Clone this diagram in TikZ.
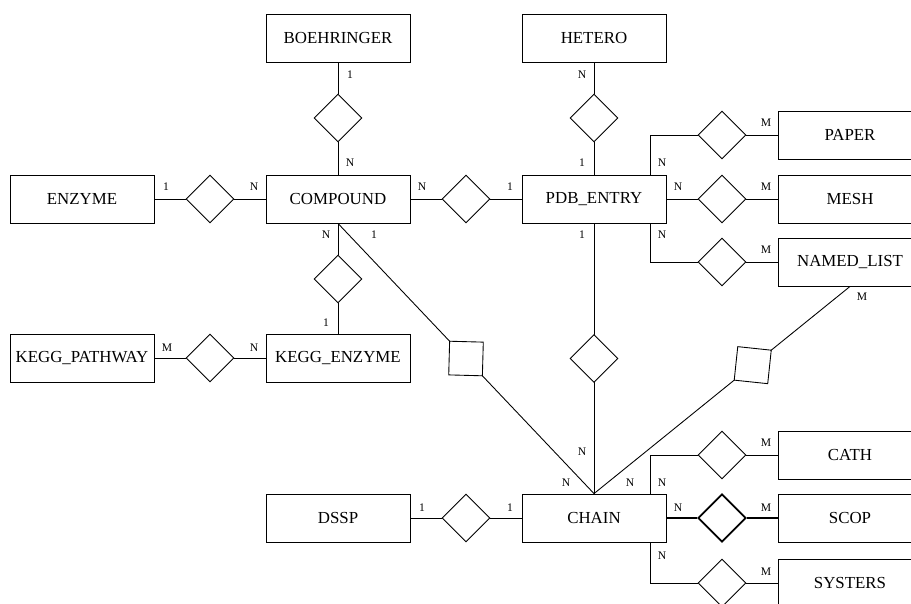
\documentclass[tikz,border=0pt]{standalone}
\usepackage{fontspec}
\setmainfont{Liberation Serif}
\usetikzlibrary{shapes.geometric}

\tikzset{
  ent/.style={draw,minimum width=2.88cm,minimum height=0.96cm,inner sep=0pt,font=\fontsize{9.6}{11}\selectfont},
  rel/.style={draw,diamond,aspect=1,minimum width=0.96cm,minimum height=0.96cm,inner sep=0pt,fill=white},
  card/.style={font=\fontsize{6.6}{7}\selectfont,inner sep=0pt},
}

\begin{document}
\begin{tikzpicture}[x=0.02cm,y=-0.02cm,line width=0.5pt]
\useasboundingbox (0,0) rectangle (911,603);
\node[ent] (boehringer) at (338,38) {BOEHRINGER};
\node[ent] (enzyme) at (82,199) {ENZYME};
\node[ent] (compound) at (338,199) {COMPOUND};
\node[ent] (keggpath) at (82,358) {KEGG\_PATHWAY};
\node[ent] (keggenz) at (338,358) {KEGG\_ENZYME};
\node[ent] (dssp) at (338,518) {DSSP};
\node[ent] (hetero) at (594,38) {HETERO};
\node[ent] (pdb) at (594,199) {PDB\_ENTRY};
\node[ent] (chain) at (594,518) {CHAIN};
\node[ent] (paper) at (850,135) {PAPER};
\node[ent] (mesh) at (850,199) {MESH};
\node[ent] (namedlist) at (850,262) {NAMED\_LIST};
\node[ent] (cath) at (850,455) {CATH};
\node[ent] (scop) at (850,518) {SCOP};
\node[ent] (systers) at (850,583) {SYSTERS};
\node[rel] (rb) at (338,118) {};
\node[rel] (re) at (210,199) {};
\node[rel] (rk) at (338,279) {};
\node[rel] (rkp) at (210,358) {};
\node[rel] (rcp) at (466,199) {};
\node[rel] (rh) at (594,118) {};
\node[rel] (rpaper) at (722,135) {};
\node[rel] (rmesh) at (722,199) {};
\node[rel] (rnl) at (722,262) {};
\node[rel] (rdssp) at (466,518) {};
\node[rel] (rcath) at (722,455) {};
\node[rel,line width=1pt] (rscop) at (722,518) {};
\node[rel] (rsys) at (722,583) {};
\draw (boehringer) -- (rb) -- (compound);
\draw (enzyme) -- (re) -- (compound);
\draw (compound) -- (rk) -- (keggenz);
\draw (keggpath) -- (rkp) -- (keggenz);
\draw (compound) -- (rcp) -- (pdb);
\draw (hetero) -- (rh) -- (pdb);
\draw ([xshift=-0.32cm]pdb.north east) |- (rpaper) -- (paper);
\draw (pdb) -- (rmesh) -- (mesh);
\draw ([xshift=-0.32cm]pdb.south east) |- (rnl) -- (namedlist);
\draw (dssp) -- (rdssp) -- (chain);
\draw ([xshift=-0.32cm]chain.north east) |- (rcath) -- (cath);
\draw[line width=1pt] (chain) -- (rscop) -- (scop);
\draw ([xshift=-0.32cm]chain.south east) |- (rsys) -- (systers);
\draw (compound.south) -- node[rel,sloped,pos=0.5] (rcc) {} (chain.north);
\draw (pdb.south) -- node[rel,pos=0.5] (rpc) {} (chain.north);
\draw (namedlist.south) -- node[rel,sloped,pos=0.38] (rnc) {} (chain.north);
\foreach \t/\x/\y [count=\i] in {1/166/187,N/254/187,1/350/75,N/350/163,N/326/235,1/374/235,
  1/326/323,M/167/348,N/254/348,N/422/187,1/510/187,N/582/75,1/582/163,N/662/163,M/766/123,
  N/678/187,M/766/187,1/582/235,N/662/235,M/766/250,M/862/297,N/582/452,N/566/483,N/630/483,
  N/662/483,M/766/443,1/422/508,1/510/508,N/678/508,M/766/508,N/662/556,M/766/572}
  {\node[card] (c\i) at (\x,\y) {\t};}
\end{tikzpicture}
\end{document}
